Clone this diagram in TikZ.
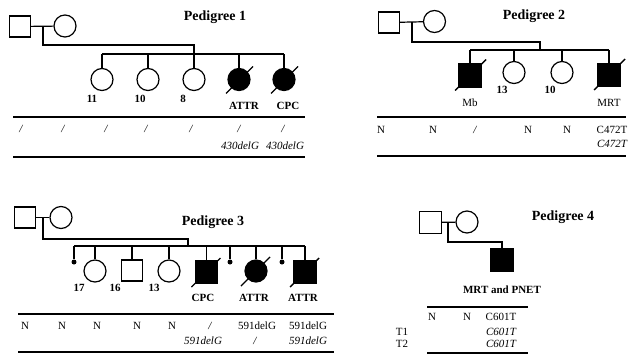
\documentclass[tikz,border=0pt]{standalone}
\usepackage{fontspec}
\setmainfont{Liberation Serif}
\begin{document}
\begin{tikzpicture}[x=1pt,y=-1pt,
  pl/.style={line width=1.2pt},
  male/.style={draw, line width=1.2pt, rectangle, minimum size=21pt, inner sep=0pt},
  female/.style={draw, line width=1.2pt, circle, minimum size=22pt, inner sep=0pt},
  aff/.style={fill=black},
  ndot/.style={circle, fill=black, minimum size=5pt, inner sep=0pt},
  title/.style={font=\fontsize{14}{16}\selectfont\bfseries, inner sep=0pt},
  lbl/.style={font=\fontsize{11}{12}\selectfont\bfseries, inner sep=0pt},
  cell/.style={font=\fontsize{11}{12}\selectfont, inner sep=0pt},
  icell/.style={font=\fontsize{11}{12}\selectfont\itshape, inner sep=0pt},
  rulel/.style={line width=1.1pt},
  dead/.style={line width=1.4pt}]
\useasboundingbox (0,0) rectangle (628,356);

% ================= Pedigree 1 =================
\node[title] (t1) at (215,17) {Pedigree 1};
\node[male] (f1) at (20,26.5) {};
\node[female] (m1) at (65,26) {};
\draw[pl] (f1) -- (m1);
\coordinate (j1) at (43,26.5);
\coordinate (k1) at (194,45);
\coordinate (s1l) at (102,54);
\coordinate (s1r) at (284,54);
\node[female] (a1) at (102,79.5) {};
\node[female] (a2) at (148,79.5) {};
\node[female] (a3) at (194,79.5) {};
\node[female,aff] (a4) at (239,79.5) {};
\node[female,aff] (a5) at (284,79.5) {};
\draw[pl] (j1) |- (k1) -- (a3);
\draw[pl] (s1l) -- (s1r);
\foreach \n in {a1,a2,a4,a5} \draw[pl] (\n |- s1l) -- (\n);
\foreach \n in {a4,a5} \draw[dead] (\n.center) ++(-13,14) -- ++(27,-27);
\node[lbl] (l11) at (92,99) {11};
\node[lbl] (l12) at (140,99) {10};
\node[lbl] (l13) at (183,99) {8};
\node[lbl] (l14) at (244,106) {ATTR};
\node[lbl] (l15) at (288,106) {CPC};
\draw[rulel] (13,117) -- (305,117);
\draw[rulel] (13,157) -- (305,157);
\foreach \x in {21,63,106,146,191,239,283} \node[icell] at (\x,129) {/};
\node[icell] (g11) at (240,146) {430delG};
\node[icell] (g12) at (285,146) {430delG};

% ================= Pedigree 2 =================
\node[title] (t2) at (534,16) {Pedigree 2};
\node[male] (f2) at (389,22.5) {};
\node[female] (m2) at (434.5,21.5) {};
\draw[pl] (f2) -- (m2);
\coordinate (j2) at (412,22);
\coordinate (k2) at (540,42);
\coordinate (k2b) at (540,50);
\coordinate (s2l) at (470,50);
\coordinate (s2r) at (609,50);
\node[male,aff,minimum size=23pt] (b1) at (470,75.5) {};
\node[female] (b2) at (514,72.5) {};
\node[female] (b3) at (562,72.5) {};
\node[male,aff,minimum size=23pt] (b4) at (609,75) {};
\draw[pl] (j2) |- (k2) -- (k2b);
\draw[pl] (s2l) -- (s2r);
\foreach \n in {b1,b2,b3,b4} \draw[pl] (\n |- s2l) -- (\n);
\foreach \n in {b1,b4} \draw[dead] (\n.center) ++(-15,15) -- ++(31,-31);
\node[lbl] (l21) at (502,90) {13};
\node[lbl] (l22) at (550,90) {10};
\node[cell] (l23) at (470,103) {Mb};
\node[cell] (l24) at (609,103) {MRT};
\draw[rulel] (377,117) -- (626,117);
\draw[rulel] (377,156) -- (626,156);
\node[cell] at (381,130) {N};
\node[cell] at (433,130) {N};
\node[icell] at (475,130) {/};
\node[cell] at (528,130) {N};
\node[cell] at (567,130) {N};
\node[cell] at (612,130) {C472T};
\node[icell] at (612,144) {C472T};

% ================= Pedigree 3 =================
\node[title] (t3) at (213,222) {Pedigree 3};
\node[male] (f3) at (25,217.5) {};
\node[female] (m3) at (61,217.5) {};
\draw[pl] (f3) -- (m3);
\coordinate (j3) at (43,217.5);
\coordinate (k3) at (188,239);
\coordinate (k3b) at (188,246);
\coordinate (s3l) at (74,246);
\coordinate (s3r) at (305,246);
\node[ndot] (c1) at (74,262) {};
\node[female] (c2) at (95,271) {};
\node[male] (c3) at (132,270.5) {};
\node[female] (c4) at (169,271) {};
\node[male,aff,minimum size=22pt] (c5) at (206.5,272) {};
\node[ndot] (c6) at (230,262) {};
\node[female,aff] (c7) at (256,271) {};
\node[ndot] (c8) at (282,262) {};
\node[male,aff,minimum size=22pt] (c9) at (305,272) {};
\draw[pl] (j3) |- (k3) -- (k3b);
\draw[pl] (s3l) -- (s3r);
\foreach \n in {c1,c2,c3,c4,c5,c6,c7,c8,c9} \draw[pl] (\n |- s3l) -- (\n);
\foreach \n in {c5,c7,c9} \draw[dead] (\n.center) ++(-15,15) -- ++(29,-29);
\node[lbl] (l31) at (79,288) {17};
\node[lbl] (l32) at (115,288) {16};
\node[lbl] (l33) at (154,288) {13};
\node[lbl] (l34) at (203,298) {CPC};
\node[lbl] (l35) at (254,298) {ATTR};
\node[lbl] (l36) at (303,298) {ATTR};
\draw[rulel] (18,314) -- (334,314);
\draw[rulel] (18,352) -- (334,352);
\foreach \x in {25,62,97,137,172} \node[cell] at (\x,326) {N};
\node[icell] at (210,326) {/};
\node[cell] at (257,326) {591delG};
\node[cell] at (308,326) {591delG};
\node[icell] at (203,341) {591delG};
\node[icell] at (255,341) {/};
\node[icell] at (308,341) {591delG};

% ================= Pedigree 4 =================
\node[title] (t4) at (563,217) {Pedigree 4};
\node[male,minimum size=22pt] (f4) at (430.5,222.5) {};
\node[female] (m4) at (467,222) {};
\draw[pl] (f4) -- (m4);
\coordinate (j4) at (448,222);
\coordinate (k4) at (502,242);
\node[male,aff,minimum size=22pt] (d1) at (502,260) {};
\draw[pl] (j4) |- (k4) -- (d1);
\node[lbl] (l41) at (502,290) {MRT and PNET};
\draw[rulel] (427,307) -- (528,307);
\draw[rulel] (427,353) -- (528,353);
\node[cell] at (432,317) {N};
\node[cell] at (467,317) {N};
\node[cell] at (501,317) {C601T};
\node[cell] at (402,332) {T1};
\node[icell] at (501,332) {C601T};
\node[cell] at (402,344) {T2};
\node[icell] at (501,344) {C601T};
\end{tikzpicture}
\end{document}
